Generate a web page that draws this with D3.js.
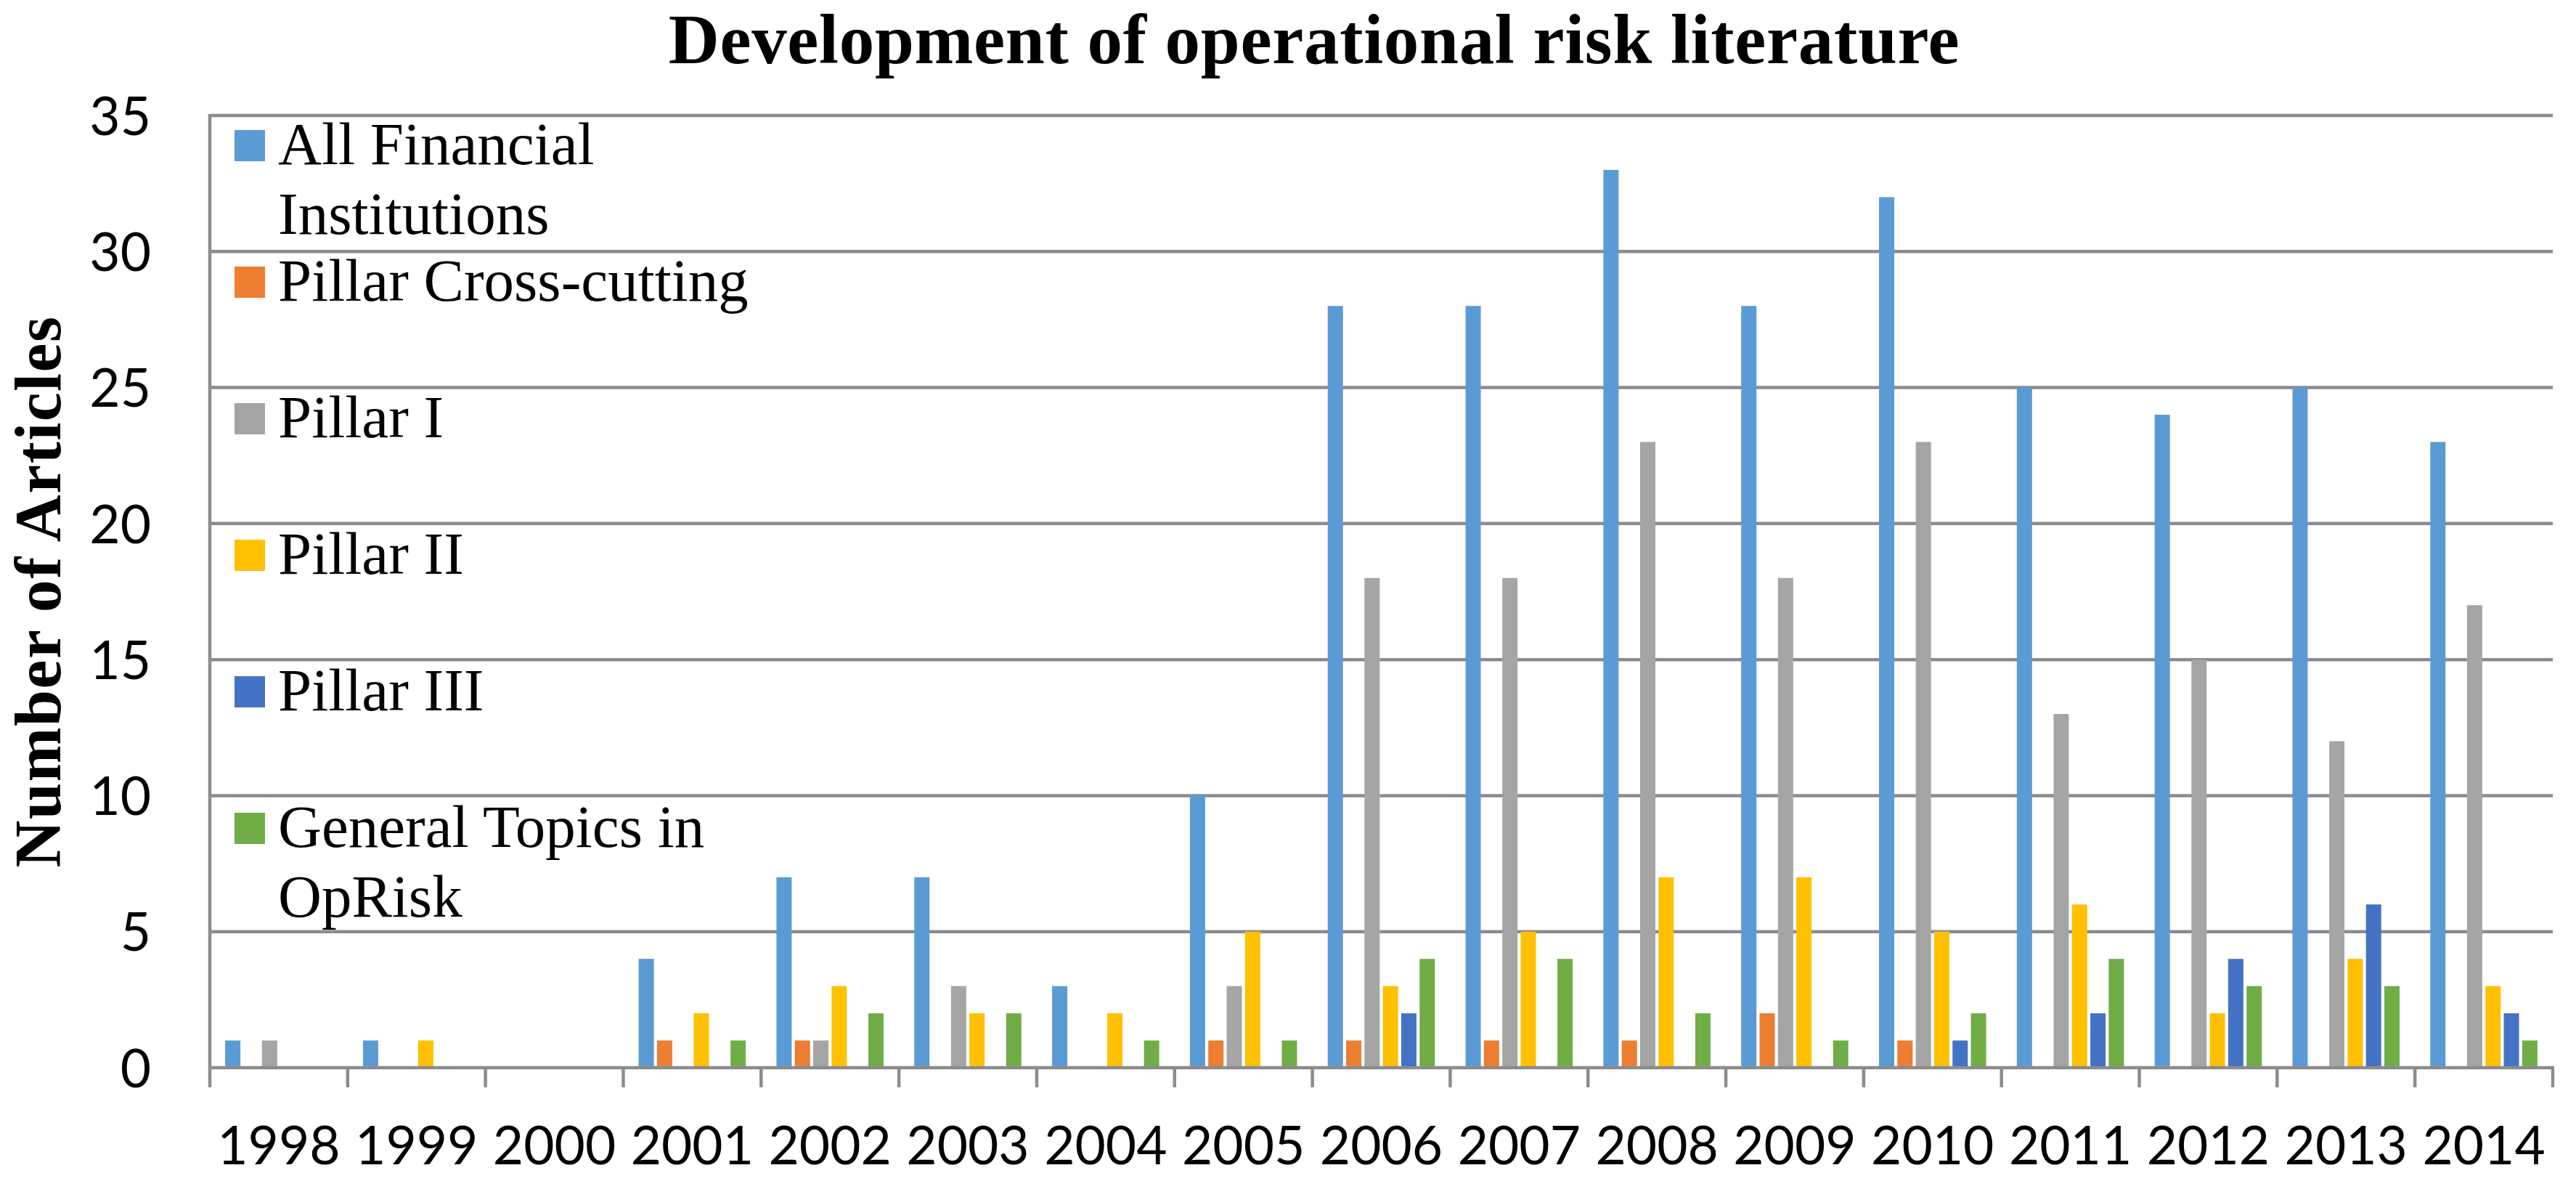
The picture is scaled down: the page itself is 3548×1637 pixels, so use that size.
<!DOCTYPE html>
<html>
<head>
<meta charset="utf-8">
<script src="https://cdn.jsdelivr.net/npm/d3@7"></script>
<style>
  html, body { margin: 0; padding: 0; background: #ffffff; }
  svg { display: block; }
</style>
</head>
<body>
<div id="chart"></div>
<script>
// ---------- Data ----------
const years = ["1998","1999","2000","2001","2002","2003","2004","2005","2006","2007","2008","2009","2010","2011","2012","2013","2014"];
const seriesNames = ["All Financial Institutions","Pillar Cross-cutting","Pillar I","Pillar II","Pillar III","General Topics in OpRisk"];
const legendLines = [["All Financial","Institutions"],["Pillar Cross-cutting"],["Pillar I"],["Pillar II"],["Pillar III"],["General Topics in","OpRisk"]];
const seriesColors = ["#5B9BD5","#ED7D31","#A5A5A5","#FFC000","#4472C4","#70AD47"];
const allFinancial    = [1,1,0,4,7,7,3,10,28,28,33,28,32,25,24,25,23];
const pillarCross     = [0,0,0,1,1,0,0,1,1,1,1,2,1,0,0,0,0];
const pillarI         = [1,0,0,0,1,3,0,3,18,18,23,18,23,13,15,12,17];
const pillarII        = [0,1,0,2,3,2,2,5,3,5,7,7,5,6,2,4,3];
const pillarIII       = [0,0,0,0,0,0,0,0,2,0,0,0,1,2,4,6,2];
const generalTopics   = [0,0,0,1,2,2,1,1,4,4,2,1,2,4,3,3,1];
const seriesValues = [allFinancial, pillarCross, pillarI, pillarII, pillarIII, generalTopics];
const yTicks = [0,5,10,15,20,25,30,35];
const titleText = "Development of operational risk literature";
const yTitleText = "Number of Articles";

// ---------- Layout ----------
const W = 3548, H = 1637;
const plot = { left: 289, right: 3516, top: 159, bottom: 1470 };
const gridColor = "#8c8c8c";

const svg = d3.select("#chart").append("svg")
  .attr("width", W).attr("height", H)
  .attr("viewBox", `0 0 ${W} ${H}`);

svg.append("rect").attr("width", W).attr("height", H).attr("fill", "#fff");

const x0 = d3.scaleBand().domain(years).range([plot.left, plot.right]).paddingInner(0).paddingOuter(0);
const x1 = d3.scaleBand().domain(d3.range(seriesNames.length)).range([0, x0.bandwidth()])
  .paddingInner(0.17).paddingOuter(0.835);
const y = d3.scaleLinear().domain([0, 35]).range([plot.bottom, plot.top]);

// Gridlines
svg.append("g").selectAll("line").data(yTicks.filter(t => t > 0)).join("line")
  .attr("x1", plot.left).attr("x2", plot.right)
  .attr("y1", d => y(d)).attr("y2", d => y(d))
  .attr("stroke", gridColor).attr("stroke-width", 4.5);

// Bars
const table = years.map((yr, i) => ({ year: yr, vals: seriesValues.map(s => s[i]) }));
const groups = svg.append("g").selectAll("g").data(table).join("g")
  .attr("transform", d => `translate(${x0(d.year)},0)`);
groups.selectAll("rect").data(d => d.vals.map((v, k) => ({ k, v }))).join("rect")
  .attr("x", d => x1(d.k))
  .attr("width", x1.bandwidth())
  .attr("y", d => y(d.v))
  .attr("height", d => y(0) - y(d.v))
  .attr("fill", d => seriesColors[d.k]);

// X axis (baseline + category ticks)
svg.append("line").attr("x1", plot.left - 2).attr("x2", plot.right + 2)
  .attr("y1", y(0)).attr("y2", y(0)).attr("stroke", gridColor).attr("stroke-width", 4.5);
const boundaries = years.map(d => x0(d)).concat([plot.right]);
svg.append("g").selectAll("line").data(boundaries).join("line")
  .attr("x1", d => d).attr("x2", d => d)
  .attr("y1", plot.bottom).attr("y2", plot.bottom + 27)
  .attr("stroke", gridColor).attr("stroke-width", 4.5);
svg.append("g").selectAll("text").data(years).join("text")
  .attr("x", d => x0(d) + x0.bandwidth() / 2)
  .attr("y", 1603)
  .attr("text-anchor", "middle")
  .attr("font-family", "Lato, 'Open Sans', sans-serif")
  .attr("font-size", 73)
  .attr("fill", "#000")
  .text(d => d);

// Y axis line
svg.append("line").attr("x1", plot.left).attr("x2", plot.left)
  .attr("y1", plot.top - 2).attr("y2", plot.bottom)
  .attr("stroke", gridColor).attr("stroke-width", 4.5);

// Y tick labels via axis
const yAxis = d3.axisLeft(y).tickValues(yTicks).tickSize(0).tickPadding(0);
const yg = svg.append("g").attr("transform", `translate(208,0)`).call(yAxis);
yg.select(".domain").remove();
yg.selectAll("text")
  .attr("font-family", "Lato, 'Open Sans', sans-serif")
  .attr("font-size", 73)
  .attr("fill", "#000")
  .attr("x", 0)
  .attr("dy", "0.36em");

// Title
svg.append("text")
  .attr("x", 1810).attr("y", 87)
  .attr("text-anchor", "middle")
  .attr("font-family", "'Liberation Serif', 'Times New Roman', serif")
  .attr("font-weight", "bold")
  .attr("font-size", 97)
  .attr("letter-spacing", 0.7)
  .attr("fill", "#000")
  .text(titleText);

// Y axis title
svg.append("text")
  .attr("transform", `translate(83,${(plot.top + plot.bottom) / 2}) rotate(-90)`)
  .attr("text-anchor", "middle")
  .attr("font-family", "'Liberation Serif', 'Times New Roman', serif")
  .attr("font-weight", "bold")
  .attr("font-size", 90)
  .attr("letter-spacing", 1.5)
  .attr("fill", "#000")
  .text(yTitleText);

// Legend
const legend = svg.append("g");
const leg = legend.selectAll("g").data(seriesNames).join("g")
  .attr("transform", (d, i) => `translate(323,${226 + 188 * i})`);
leg.append("rect").attr("x", 0).attr("y", -47).attr("width", 42).attr("height", 43)
  .attr("fill", (d, i) => seriesColors[i]);
leg.append("text")
  .attr("x", 60).attr("y", 0)
  .attr("font-family", "'Liberation Serif', 'Times New Roman', serif")
  .attr("font-size", 83)
  .attr("fill", "#000")
  .selectAll("tspan").data((d, i) => legendLines[i]).join("tspan")
  .attr("x", 60).attr("dy", (d, j) => j === 0 ? 0 : 96)
  .text(d => d);
</script>
</body>
</html>
